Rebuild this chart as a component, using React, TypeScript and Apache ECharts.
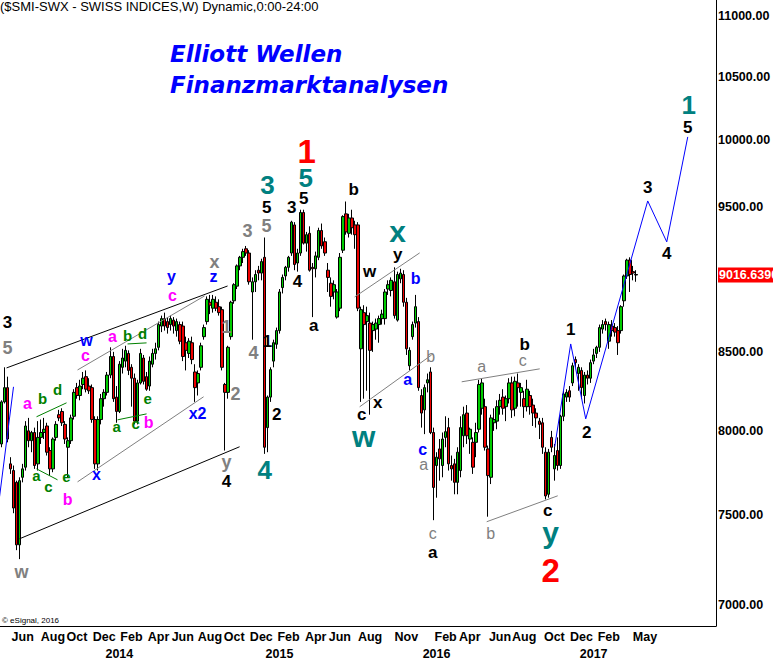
import React, { useEffect, useRef } from "react";
import * as echarts from "echarts";

// ---------- categories: weekly bars ----------
const WEEKS = 237;
const START_UTC = Date.UTC(2013, 4, 13);
const weekCategories: string[] = Array.from({ length: WEEKS }, (_, i) =>
  new Date(START_UTC + i * 7 * 86400000).toISOString().slice(0, 10)
);

// ---------- weekly candles [open, high, low, close] ----------
const candles: number[][] = [
  [7920, 8190, 7900, 8180], [8180, 8400, 8170, 8270], [8270, 8340, 7930, 7950], [7800, 7840, 7740, 7770],
  [7760, 7790, 7510, 7540], [7690, 7700, 7300, 7330], [7330, 7720, 7250, 7700], [7720, 7800, 7690, 7770],
  [7780, 8060, 7760, 8030], [8000, 8080, 7900, 7940], [7940, 8000, 7870, 7990], [7990, 8020, 7770, 7790],
  [7800, 8060, 7760, 7960], [7960, 8070, 7920, 7990], [7990, 8080, 7950, 8010], [8030, 8050, 7850, 7870],
  [7880, 7900, 7730, 7770], [7770, 7960, 7750, 7950], [7960, 8060, 7940, 8040], [8100, 8130, 8060, 8080],
  [8120, 8140, 8030, 8050], [8040, 8060, 7920, 7950], [7900, 7960, 7720, 7940], [7940, 8100, 7920, 8080],
  [8090, 8260, 8070, 8240], [8270, 8300, 8200, 8220], [8220, 8320, 8190, 8280], [8290, 8370, 8260, 8330],
  [8340, 8380, 8240, 8260], [8280, 8330, 8230, 8250], [8270, 8290, 8050, 8070], [8070, 8090, 7770, 7800],
  [7800, 8090, 7760, 8070], [8070, 8230, 8040, 8200], [8200, 8260, 8150, 8240], [8240, 8370, 8220, 8350],
  [8350, 8530, 8330, 8470], [8470, 8500, 8180, 8200], [8210, 8280, 8050, 8120], [8120, 8440, 8110, 8420],
  [8400, 8520, 8360, 8460], [8440, 8540, 8400, 8510], [8490, 8510, 8350, 8380], [8400, 8420, 8150, 8330],
  [8330, 8360, 8040, 8060], [8060, 8320, 8040, 8300], [8300, 8520, 8290, 8490], [8460, 8480, 8290, 8310],
  [8340, 8370, 8250, 8260], [8280, 8470, 8250, 8440], [8420, 8520, 8400, 8490], [8490, 8560, 8450, 8520],
  [8530, 8700, 8510, 8680], [8670, 8740, 8630, 8720], [8720, 8760, 8640, 8670], [8700, 8730, 8620, 8660],
  [8680, 8740, 8640, 8720], [8710, 8730, 8620, 8670], [8640, 8720, 8600, 8700], [8680, 8700, 8550, 8570],
  [8670, 8700, 8440, 8470], [8560, 8600, 8380, 8510], [8490, 8590, 8460, 8570], [8560, 8600, 8420, 8450],
  [8370, 8420, 8180, 8270], [8300, 8380, 8220, 8360], [8400, 8560, 8380, 8540], [8600, 8680, 8580, 8660],
  [8700, 8870, 8680, 8850], [8830, 8880, 8750, 8810], [8790, 8880, 8760, 8850], [8830, 8870, 8770, 8790],
  [8800, 8850, 8740, 8760], [8780, 8800, 8380, 8400], [8290, 8300, 7880, 8240], [8240, 8540, 8200, 8530],
  [8600, 8840, 8580, 8830], [8840, 8960, 8820, 8950], [8940, 9090, 8920, 9080], [9080, 9150, 9050, 9140],
  [9140, 9200, 9100, 9180], [9200, 9220, 9150, 9170], [9170, 9190, 8950, 8970], [8900, 9000, 8580, 8970],
  [8970, 9050, 8900, 9020], [9050, 9080, 8980, 9030], [9030, 9130, 8980, 9110], [9140, 9280, 7860, 7900],
  [8020, 8220, 7870, 8210], [8210, 8400, 8180, 8385], [8440, 8580, 8400, 8560], [8550, 8660, 8520, 8640],
  [8640, 8920, 8620, 8900], [8930, 9020, 8890, 9000], [9010, 9080, 8980, 9070], [9070, 9150, 9040, 9140],
  [9170, 9400, 9150, 9390], [9370, 9390, 9050, 9090], [9100, 9200, 9040, 9170], [9170, 9480, 9150, 9460],
  [9460, 9480, 9230, 9240], [9240, 9320, 9180, 9300], [9310, 9360, 9040, 9050], [9070, 9100, 8730, 9060],
  [9060, 9180, 9000, 9150], [9140, 9350, 9120, 9330], [9330, 9380, 9200, 9220], [9250, 9280, 9150, 9170],
  [9050, 9100, 8900, 9000], [8960, 9000, 8800, 8870], [8900, 8980, 8850, 8950], [8730, 8920, 8720, 8900],
  [8790, 9170, 8770, 9140], [9190, 9440, 9170, 9430], [9450, 9540, 9300, 9320], [9310, 9450, 9280, 9420],
  [9420, 9480, 9300, 9350], [9370, 9400, 9200, 9300], [9370, 9390, 8770, 8790], [8520, 8800, 8180, 8780],
  [8760, 8810, 8200, 8680], [8700, 8800, 8250, 8740], [8690, 8760, 8100, 8510], [8640, 8700, 8500, 8680],
  [8650, 8720, 8580, 8690], [8680, 8740, 8560, 8720], [8720, 8780, 8680, 8750], [8720, 8920, 8680, 8900],
  [8920, 8980, 8880, 8950], [8910, 9000, 8870, 8980], [8970, 9070, 8720, 8740], [8710, 9040, 8700, 9020],
  [8990, 9060, 8960, 9030], [9020, 9050, 8800, 8830], [8830, 8860, 8480, 8520], [8410, 8530, 8380, 8510],
  [8600, 8700, 8580, 8680], [8690, 8880, 8660, 8800], [8700, 8730, 8250, 8270], [8220, 8260, 8020, 8110],
  [8130, 8290, 7980, 8270], [8300, 8360, 8240, 8320], [8370, 8400, 7980, 7990], [7990, 8020, 7470, 7660],
  [7790, 7870, 7600, 7840], [7890, 7950, 7700, 7830], [7790, 7990, 7720, 7950], [7960, 8090, 7900, 7995],
  [8020, 8080, 7760, 7800], [7790, 7850, 7700, 7770], [7800, 7830, 7620, 7690], [7690, 7900, 7620, 7870],
  [7760, 8090, 7720, 8020], [7970, 8150, 7900, 8100], [8110, 8160, 7920, 7970], [7950, 8020, 7860, 8010],
  [7930, 7960, 7740, 7780], [7930, 8050, 7840, 7990], [8010, 8320, 7990, 8290], [8140, 8330, 8100, 8300],
  [8150, 8200, 7880, 7900], [7890, 7910, 7490, 7730], [7720, 8100, 7680, 8080], [8050, 8140, 8000, 8070],
  [8060, 8190, 8010, 8150], [8150, 8230, 8100, 8190], [8210, 8260, 8100, 8140], [8150, 8220, 8060, 8200],
  [8200, 8330, 8170, 8300], [8300, 8340, 8080, 8130], [8140, 8340, 8090, 8310], [8300, 8360, 8150, 8270],
  [8240, 8300, 8150, 8270], [8200, 8250, 8080, 8150], [8150, 8320, 8120, 8260], [8220, 8250, 8100, 8150],
  [8160, 8200, 8030, 8110], [8110, 8140, 8020, 8080], [8060, 8080, 7950, 8040], [8050, 8080, 7860, 7900],
  [7870, 7900, 7590, 7610], [7620, 7890, 7600, 7870], [7960, 8000, 7870, 7900], [7770, 7920, 7700, 7850],
  [7880, 7960, 7760, 7790], [7790, 8100, 7770, 8090], [8090, 8250, 8060, 8230], [8210, 8260, 8180, 8240],
  [8250, 8280, 8180, 8210], [8300, 8430, 8280, 8410], [8450, 8470, 8400, 8430], [8360, 8420, 8250, 8400],
  [8380, 8400, 8200, 8270], [8220, 8370, 8170, 8350], [8350, 8380, 8290, 8330], [8330, 8450, 8300, 8430],
  [8440, 8520, 8420, 8480], [8490, 8540, 8460, 8530], [8530, 8680, 8500, 8660], [8650, 8710, 8620, 8680],
  [8700, 8720, 8640, 8680], [8570, 8700, 8520, 8680], [8670, 8710, 8600, 8640], [8660, 8690, 8600, 8630],
  [8640, 8670, 8480, 8560], [8640, 8810, 8620, 8800], [8840, 9020, 8800, 9010], [9010, 9130, 8990, 9120],
  [9120, 9140, 8900, 9020], [9040, 9080, 8980, 9030], [9020, 9050, 8970, 9016.639],
];

const lastClose = 9016.639;

// ---------- axis ticks ----------
const priceTicks = [7000, 7500, 8000, 8500, 9500, 10000, 10500, 11000];
const priceRange = [6887.2, 11135.8];

const monthTicks: [number, string][] = [
  [7, "Jun"], [17, "Aug"], [25, "Oct"], [34, "Dec"], [43, "Feb"], [52, "Apr"], [60, "Jun"], [69, "Aug"],
  [77, "Oct"], [86, "Dec"], [95, "Feb"], [104, "Apr"], [112, "Jun"], [122, "Aug"], [134, "Nov"],
  [147, "Feb"], [155, "Apr"], [165, "Jun"], [173, "Aug"], [183, "Oct"], [192, "Dec"], [201, "Feb"], [213, "May"],
];
const yearTicks: [number, string][] = [[39, "2014"], [92, "2015"], [144, "2016"], [196, "2017"]];

// ---------- wave labels: [text, week, price, styleKey] ----------
const waveLabels: [string, number, number, string][] = [
  ["3", 1.99, 8691, "k"], ["5", 1.99, 8526, "g"], ["w", 6.62, 7180, "g"],
  ["a", 8.61, 8168, "m"], ["b", 13.58, 8199, "gr"], ["d", 18.54, 8256, "gr"],
  ["a", 11.59, 7729, "gr"], ["c", 15.56, 7664, "gr"], ["e", 21.52, 7723, "gr"], ["b", 21.85, 7588, "m"],
  ["x", 31.46, 7735, "b"], ["w", 28.15, 8575, "b"], ["c", 27.81, 8475, "m"],
  ["a", 36.75, 8598, "m"], ["b", 41.72, 8605, "gr"], ["d", 46.69, 8618, "gr"],
  ["a", 38.08, 8025, "gr"], ["c", 44.37, 8043, "gr"], ["b", 48.68, 8049, "m"], ["e", 48.34, 8199, "gr"],
  ["y", 56.29, 9004, "b"], ["c", 56.62, 8873, "m"], ["x", 70.53, 9108, "g"], ["z", 70.2, 9004, "b"],
  ["x2", 64.9, 8105, "b"],
  ["1", 74.5, 8665, "g"], ["2", 77.48, 8231, "g"], ["3", 81.46, 9327, "g"], ["4", 83.44, 8494, "g"],
  ["5", 87.75, 9363, "g"], ["5", 87.75, 9493, "k"], ["3", 88.08, 9662, "t"],
  ["y", 74.5, 7812, "g"], ["4", 74.5, 7693, "k"], ["4", 87.09, 7764, "t"],
  ["1", 88.08, 8565, "k"], ["2", 91.06, 8099, "k"], ["3", 96.03, 9493, "k"], ["5", 100, 9560, "k"],
  ["4", 98.01, 8969, "k"], ["1", 101, 9915, "r"], ["5", 100.66, 9714, "t"],
  ["a", 103.31, 8671, "k"], ["b", 116.56, 9632, "k"], ["w", 121.85, 9038, "k"], ["y", 131.13, 9157, "k"],
  ["x", 131.13, 9320, "tl"], ["c", 119.21, 8100, "k"], ["x", 124.5, 8174, "k"], ["w", 119.87, 7965, "tl"],
  ["b", 137.09, 8990, "b"], ["b", 142.05, 8467, "gs"], ["a", 134.44, 8319, "b"], ["c", 139.4, 7884, "b"],
  ["a", 139.74, 7794, "gs"], ["c", 142.72, 7392, "gs"], ["a", 142.72, 7285, "k"],
  ["a", 158.94, 8403, "gs"], ["b", 173.18, 8546, "k"], ["c", 172.52, 8442, "gs"], ["b", 161.92, 7392, "gs"],
  ["c", 180.79, 7524, "k"], ["y", 181.79, 7400, "tl"], ["2", 181.79, 7185, "r"],
  ["1", 188.41, 8645, "k"], ["2", 193.71, 7988, "k"], ["3", 213.9, 9640, "k"], ["4", 220.2, 9164, "k"],
  ["5", 227.15, 10094, "k"], ["1", 227.48, 10274, "t"],
];

const labelStyles: Record<string, { color: string; size: number; weight: string }> = {
  k: { color: "#000000", size: 17, weight: "bold" },
  g: { color: "#808080", size: 18, weight: "bold" },
  gs: { color: "#808080", size: 16, weight: "normal" },
  m: { color: "#ff00ff", size: 16, weight: "bold" },
  gr: { color: "#008000", size: 15, weight: "bold" },
  b: { color: "#0000ff", size: 16, weight: "bold" },
  t: { color: "#008080", size: 26, weight: "bold" },
  tl: { color: "#008080", size: 30, weight: "bold" },
  r: { color: "#ff0000", size: 33, weight: "bold" },
};

// ---------- wave lines: [styleKey, [week, price][]] ----------
const waveLines: [string, [number, number][]][] = [
  ["blue", [[-0.66, 7605], [3.97, 8275]]],
  ["black", [[1.66, 8396], [74.83, 8941]]],
  ["black", [[5.96, 7364], [78.81, 7903]]],
  ["grey", [[25.17, 8383], [67.22, 8873]]],
  ["grey", [[25.17, 7693], [66.89, 8212]]],
  ["green", [[11.59, 8087], [21.52, 8174]]],
  ["green", [[11.59, 7770], [18.54, 7705]]],
  ["green", [[41.72, 8552], [48.01, 8559]]],
  ["green", [[38.41, 8068], [48.01, 8105]]],
  ["grey", [[116.89, 8866], [138.41, 9171]]],
  ["grey", [[118.54, 8149], [142.38, 8480]]],
  ["grey", [[152.32, 8307], [178.15, 8390]]],
  ["grey", [[160.6, 7461], [184.11, 7611]]],
  ["blue", [[183.11, 7903], [188.41, 8552], [193.38, 8074], [213.9, 9544], [220.2, 9249], [227.15, 10025]]],
];
const lineColors: Record<string, string> = {
  blue: "#0000ff", black: "#000000", grey: "#808080", green: "#008000",
};

const lg = (p: number) => Math.log10(p);

export default function App() {
  const ref = useRef<HTMLDivElement>(null);

  useEffect(() => {
    if (!ref.current) return;
    const chart = echarts.init(ref.current, undefined, { renderer: "svg" });

    const tickText: Record<number, string> = {};
    monthTicks.forEach(([i, t]) => (tickText[i] = t));
    yearTicks.forEach(([i, t]) => (tickText[i] = "\n" + t));
    const lastLog = lg(lastClose);

    const series: any[] = [
      {
        type: "candlestick",
        xAxisIndex: 0,
        yAxisIndex: 0,
        silent: true,
        barWidth: 3,
        data: candles.map(([o, h, l, c]) => [lg(o), lg(c), lg(l), lg(h)]),
        itemStyle: {
          color: "#00cc00",
          color0: "#ee0000",
          borderColor: "#000000",
          borderColor0: "#000000",
          borderColorDoji: "#000000",
          borderWidth: 1,
        },
        z: 2,
      },
    ];

    waveLines.forEach(([key, pts]) => {
      series.push({
        type: "line",
        xAxisIndex: 1,
        yAxisIndex: 0,
        silent: true,
        symbol: "none",
        data: pts.map(([w, p]) => [w, lg(p)]),
        lineStyle: { color: lineColors[key], width: 1, opacity: 1 },
        z: 3,
      });
    });

    series.push({
      type: "scatter",
      xAxisIndex: 1,
      yAxisIndex: 0,
      silent: true,
      symbolSize: 0,
      itemStyle: { opacity: 1 },
      z: 5,
      data: waveLabels.map(([text, w, p, key]) => {
        const s = labelStyles[key];
        return {
          value: [w, lg(p)],
          label: {
            show: true,
            position: "inside",
            formatter: text,
            color: s.color,
            opacity: 1,
            fontSize: s.size,
            fontWeight: s.weight,
            fontFamily: "'Liberation Sans', Arial, sans-serif",
          },
        };
      }),
    });

    chart.setOption({
      animation: false,
      grid: {
        left: 0,
        top: 0,
        width: 716,
        height: 626,
        containLabel: false,
        outerBoundsMode: "none",
      },
      xAxis: [
        {
          type: "category",
          data: weekCategories,
          boundaryGap: true,
          axisLine: { show: true, lineStyle: { color: "#000", width: 1 } },
          axisTick: { show: false },
          splitLine: { show: false },
          axisLabel: {
            interval: (index: number) => tickText[index] !== undefined,
            formatter: (_v: string, index: number) => tickText[index] ?? "",
            color: "#000",
            fontFamily: "'Liberation Sans Narrow', 'Arial Narrow', 'Liberation Sans', sans-serif",
            fontWeight: "bold",
            fontSize: 12.5,
            lineHeight: 17,
            margin: 2,
          },
        },
        {
          type: "value",
          min: -0.5,
          max: WEEKS - 0.5,
          show: false,
        },
      ],
      yAxis: {
        type: "value",
        position: "right",
        min: lg(priceRange[0]),
        max: lg(priceRange[1]),
        axisLine: { show: true, onZero: false, lineStyle: { color: "#000", width: 1 } },
        axisTick: { show: false },
        splitLine: { show: false },
        axisLabel: {
          customValues: [...priceTicks.map(lg), lastLog],
          formatter: (v: number) =>
            Math.abs(v - lastLog) < 1e-9
              ? `{last|${lastClose.toFixed(4)}}`
              : Math.pow(10, v).toFixed(2),
          color: "#000",
          fontWeight: "bold",
          fontSize: 12.5,
          fontFamily: "'Liberation Sans', Arial, sans-serif",
          margin: 2,
          rich: {
            last: {
              color: "#ffffff",
              backgroundColor: "#ff0000",
              fontWeight: "bold",
              fontSize: 12.5,
              fontFamily: "'Liberation Sans', Arial, sans-serif",
              padding: [1, 10, 1, 1],
            },
          },
        },
      },
      graphic: [
        {
          type: "text",
          left: 0,
          top: 0,
          silent: true,
          style: {
            text: "($SMI-SWX - SWISS INDICES,W) Dynamic,0:00-24:00",
            font: "13px 'Liberation Sans', Arial, sans-serif",
            fill: "#000",
          },
        },
        {
          type: "text",
          left: 170,
          top: 42,
          silent: true,
          style: {
            text: "Elliott Wellen",
            font: "italic bold 23px 'DejaVu Sans', sans-serif",
            fill: "#0000ff",
            textShadowColor: "#000080",
            textShadowOffsetX: 1,
            textShadowOffsetY: 1,
            textShadowBlur: 0,
          },
        },
        {
          type: "text",
          left: 170,
          top: 73,
          silent: true,
          style: {
            text: "Finanzmarktanalysen",
            font: "italic bold 23px 'DejaVu Sans', sans-serif",
            fill: "#0000ff",
            textShadowColor: "#000080",
            textShadowOffsetX: 1,
            textShadowOffsetY: 1,
            textShadowBlur: 0,
          },
        },
        {
          type: "text",
          left: 2,
          top: 616,
          silent: true,
          style: {
            text: "© eSignal, 2016",
            font: "8px 'Liberation Sans', Arial, sans-serif",
            fill: "#000",
          },
        },
      ],
      series,
    });

    return () => chart.dispose();
  }, []);

  return (
    <div
      ref={ref}
      style={{ position: "absolute", left: 0, top: 0, width: 773, height: 660, background: "#fff" }}
    />
  );
}
